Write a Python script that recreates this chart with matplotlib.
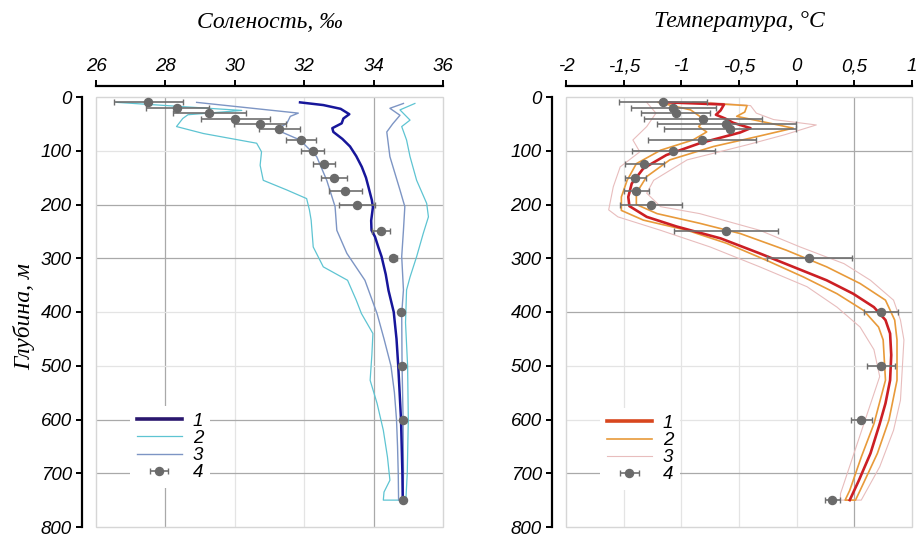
import matplotlib
matplotlib.use("Agg")
import matplotlib.pyplot as plt
from matplotlib.patches import Rectangle
from matplotlib.font_manager import FontProperties

# ---------------- data ----------------
depth_ticks = [0, 100, 200, 300, 400, 500, 600, 700, 800]

sal_ticks = [26, 28, 30, 32, 34, 36]
sal_tick_labels = ["26", "28", "30", "32", "34", "36"]
temp_ticks = [-2, -1.5, -1, -0.5, 0, 0.5, 1]
temp_tick_labels = ["-2", "-1,5", "-1", "-0,5", "0", "0,5", "1"]

series_labels = ["1", "2", "3", "4"]

# observation levels (series 4)
obs_depth = [10, 20, 30, 40, 50, 60, 80, 100, 125, 150, 175, 200, 250, 300, 400, 500, 600, 750]
sal_obs = [27.51, 28.34, 29.27, 30.02, 30.73, 31.28, 31.90, 32.25, 32.56, 32.86, 33.19, 33.52,
           34.21, 34.57, 34.78, 34.81, 34.84, 34.86]
sal_obs_err = [0.99, 0.91, 1.04, 1.00, 0.75, 0.59, 0.43, 0.33, 0.32, 0.38, 0.47, 0.52,
               0.26, 0.10, 0.03, 0.03, 0.03, 0.03]
temp_obs = [-1.16, -1.07, -1.05, -0.81, -0.61, -0.58, -0.82, -1.07, -1.32, -1.40, -1.39, -1.26,
            -0.61, 0.11, 0.73, 0.73, 0.56, 0.31]
temp_obs_err = [0.38, 0.37, 0.30, 0.51, 0.60, 0.57, 0.47, 0.36, 0.17, 0.09, 0.11, 0.27,
                0.45, 0.37, 0.15, 0.12, 0.09, 0.065]

# salinity: mean profile (series 1)
sal_mean_depth = [10, 15, 22, 32, 40, 49, 58, 65, 78, 92, 110, 130, 150, 167, 192, 205, 230, 248,
                  260, 280, 297, 330, 360, 400, 450, 500, 550, 600, 650, 700, 750]
sal_mean = [31.88, 32.55, 33.05, 33.30, 33.13, 33.08, 32.81, 32.84, 33.10, 33.32, 33.50, 33.66,
            33.78, 33.85, 33.95, 33.98, 33.93, 33.94, 34.04, 34.14, 34.23, 34.35, 34.43, 34.58,
            34.66, 34.71, 34.75, 34.79, 34.81, 34.83, 34.84]

# salinity: outer envelope (series 2)
sal_min2_depth = [10, 25, 33, 40, 55, 68, 86, 102, 127, 155, 173, 189, 210, 229, 279, 316, 341,
                  378, 403, 440, 480, 527, 570, 620, 670, 713, 735, 750]
sal_min2 = [26.60, 30.20, 28.65, 28.50, 28.32, 29.10, 30.63, 30.77, 30.73, 30.82, 31.50, 32.07,
            32.15, 32.20, 32.26, 32.55, 33.25, 33.50, 33.65, 33.98, 33.95, 33.90, 34.10, 34.28,
            34.40, 34.47, 34.30, 34.28]
sal_max2_depth = [12, 24, 43, 55, 80, 111, 155, 198, 223, 254, 297, 335, 359, 420, 500, 600, 700, 750]
sal_max2 = [35.19, 34.76, 35.05, 34.81, 34.95, 35.05, 35.24, 35.53, 35.58, 35.43, 35.24, 35.05,
            34.95, 34.92, 34.98, 35.00, 34.97, 34.93]

# salinity: inner envelope (series 3)
sal_min3_depth = [10, 30, 36, 49, 61, 80, 111, 155, 204, 248, 291, 341, 403, 450, 500, 550, 600,
                  650, 700, 750]
sal_min3 = [28.90, 31.83, 31.60, 31.50, 31.20, 31.88, 32.36, 32.65, 32.89, 32.94, 33.23, 33.75,
            34.10, 34.30, 34.50, 34.60, 34.66, 34.69, 34.71, 34.72]
sal_max3_depth = [12, 21, 34, 50, 65, 111, 173, 204, 248, 297, 359, 403, 500, 600, 700, 750]
sal_max3 = [34.86, 34.47, 34.76, 34.55, 34.38, 34.47, 34.76, 34.90, 34.86, 34.81, 34.86, 34.81,
            34.82, 34.85, 34.86, 34.85]

# temperature: mean profile (series 1)
temp_mean_depth = [10, 14, 25, 33, 40, 48, 58, 66, 86, 108, 133, 161, 186, 203, 223, 241, 263,
                   291, 316, 341, 366, 391, 415, 440, 480, 527, 570, 608, 663, 713, 750]
temp_mean = [-1.12, -0.63, -0.66, -0.70, -0.62, -0.55, -0.40, -0.49, -0.84, -1.13, -1.33, -1.43,
             -1.46, -1.45, -1.30, -1.04, -0.66, -0.32, -0.03, 0.26, 0.49, 0.67, 0.77, 0.81, 0.82,
             0.81, 0.77, 0.72, 0.64, 0.54, 0.46]

# temperature: inner envelope (series 2)
temp_min2_depth = [10, 24, 36, 46, 55, 65, 80, 99, 124, 155, 186, 211, 229, 248, 272, 304, 335,
                   366, 397, 428, 452, 527, 608, 670, 732, 750]
temp_min2 = [-1.20, -0.92, -0.84, -0.81, -0.85, -0.78, -0.90, -1.18, -1.39, -1.47, -1.52, -1.52,
             -1.33, -0.95, -0.61, -0.26, 0.06, 0.35, 0.58, 0.71, 0.75, 0.77, 0.67, 0.56, 0.46, 0.42]
temp_max2_depth = [10, 16, 28, 36, 48, 58, 74, 92, 117, 148, 179, 200, 217, 235, 254, 285, 316,
                   347, 378, 415, 452, 527, 601, 663, 732, 750]
temp_max2 = [-0.90, -0.43, -0.45, -0.52, -0.25, -0.03, -0.35, -0.72, -1.10, -1.30, -1.39, -1.39,
             -1.21, -0.84, -0.49, -0.09, 0.26, 0.55, 0.77, 0.85, 0.87, 0.87, 0.80, 0.70, 0.55, 0.51]

# temperature: outer envelope (series 3)
temp_min3_depth = [10, 30, 55, 80, 102, 130, 167, 210, 223, 248, 279, 316, 353, 391, 428, 470,
                   520, 738, 750]
temp_min3 = [-1.30, -1.22, -1.30, -1.42, -1.36, -1.53, -1.59, -1.63, -1.55, -1.18, -0.75, -0.32,
             0.09, 0.35, 0.55, 0.67, 0.72, 0.38, 0.38]
temp_max3_depth = [10, 16, 30, 42, 52, 70, 89, 117, 155, 179, 204, 217, 248, 279, 310, 341, 378,
                   415, 452, 564, 620, 688, 750]
temp_max3 = [-0.75, -0.40, -0.35, -0.20, 0.17, -0.10, -0.43, -0.95, -1.24, -1.30, -1.18, -0.84,
             -0.32, 0.03, 0.41, 0.64, 0.84, 0.90, 0.93, 0.90, 0.84, 0.72, 0.56]

# ---------------- style ----------------
TICK_FONT = FontProperties(family="Liberation Sans", style="italic", size=13.5)
TITLE_FONT = FontProperties(family="Liberation Serif", style="italic", size=17)
GRID_LIGHT = "#e4e4e4"
GRID_DARK = "#a9a9a9"
W, H = 919, 537


def envelope(lo_depth, lo, hi_depth, hi):
    """Lower bound down to the bottom, then upper bound back up."""
    xs = list(lo) + list(hi)[::-1]
    ys = list(lo_depth) + list(hi_depth)[::-1]
    return xs, ys


def style_axes(ax, xlim, xticks, xlabels, dark_x, dark_y):
    ax.set_xlim(*xlim)
    ax.set_ylim(800, 0)
    ax.xaxis.tick_top()
    ax.set_xticks(xticks)
    ax.set_xticklabels(xlabels)
    ax.set_yticks(depth_ticks)
    ax.set_yticklabels([str(d) for d in depth_ticks])
    for side in ("bottom", "right"):
        ax.spines[side].set_visible(False)
    ax.spines["top"].set_position(("outward", 8))
    ax.spines["left"].set_position(("outward", 10))
    for side in ("top", "left"):
        ax.spines[side].set_linewidth(1.6)
    ax.tick_params(direction="out", length=4.5, width=1.4, pad=3)
    for lab in ax.get_xticklabels() + ax.get_yticklabels():
        lab.set_fontproperties(TICK_FONT)
    for v in xticks[1:-1]:
        ax.axvline(v, color=GRID_DARK if v in dark_x else GRID_LIGHT, lw=0.9, zorder=0.4)
    for v in depth_ticks[1:-1]:
        ax.axhline(v, color=GRID_DARK if v in dark_y else GRID_LIGHT, lw=0.9, zorder=0.4)
    ax.add_patch(Rectangle((0, 0), 1, 1, transform=ax.transAxes, fill=False,
                           ec="#d6d6d6", lw=1.0, zorder=0.5, clip_on=False))


fig = plt.figure(figsize=(W / 100, H / 100), dpi=100)
ax_s = fig.add_axes([96 / W, 1 - 527 / H, 347 / W, 430 / H])
ax_t = fig.add_axes([566 / W, 1 - 527 / H, 346 / W, 430 / H])

# ---------------- salinity panel ----------------
style_axes(ax_s, (26, 36), sal_ticks, sal_tick_labels, [28, 34], [200, 300, 600, 700])
x2, y2 = envelope(sal_min2_depth, sal_min2, sal_max2_depth, sal_max2)
x3, y3 = envelope(sal_min3_depth, sal_min3, sal_max3_depth, sal_max3)
l2, = ax_s.plot(x2, y2, color="#5ec4d2", lw=0.9, zorder=2)
l3, = ax_s.plot(x3, y3, color="#7d95c4", lw=1.0, zorder=2)
l1, = ax_s.plot(sal_mean, sal_mean_depth, color="#17169a", lw=1.8, zorder=3)
e4 = ax_s.errorbar(sal_obs, obs_depth, xerr=sal_obs_err, fmt="o", color="#6a6a6a",
                   ecolor="#6e6e6e", elinewidth=1.2, capsize=2.5, capthick=1.0,
                   markersize=5.8, zorder=4)
leg = ax_s.legend([l1, l2, l3, e4], series_labels, loc="center",
                  bbox_to_anchor=(0.213, 0.186), frameon=True, facecolor="white",
                  edgecolor="none", framealpha=1, handlelength=2.4, handletextpad=0.6,
                  labelspacing=0.0, borderpad=0.35, prop=TICK_FONT)
leg.get_lines()[0].set_color("#2a176e")
leg.get_lines()[0].set_linewidth(2.6)
leg.set_zorder(6)

# ---------------- temperature panel ----------------
style_axes(ax_t, (-2, 1), temp_ticks, temp_tick_labels, [0.5], [100, 300, 400, 700])
tx3, ty3 = envelope(temp_min3_depth, temp_min3, temp_max3_depth, temp_max3)
tx2, ty2 = envelope(temp_min2_depth, temp_min2, temp_max2_depth, temp_max2)
t3, = ax_t.plot(tx3, ty3, color="#e8bdbd", lw=0.8, zorder=2)
t2, = ax_t.plot(tx2, ty2, color="#e89a3a", lw=1.2, zorder=2)
t1, = ax_t.plot(temp_mean, temp_mean_depth, color="#cc1f24", lw=1.9, zorder=3)
te4 = ax_t.errorbar(temp_obs, obs_depth, xerr=temp_obs_err, fmt="o", color="#6a6a6a",
                    ecolor="#6e6e6e", elinewidth=1.2, capsize=2.5, capthick=1.0,
                    markersize=5.8, zorder=4)
leg_t = ax_t.legend([t1, t2, t3, te4], series_labels, loc="center",
                    bbox_to_anchor=(0.214, 0.181), frameon=True, facecolor="white",
                    edgecolor="none", framealpha=1, handlelength=2.4, handletextpad=0.6,
                    labelspacing=0.0, borderpad=0.35, prop=TICK_FONT)
leg_t.get_lines()[0].set_color("#d8461e")
leg_t.get_lines()[0].set_linewidth(2.6)
leg_t.set_zorder(6)

# ---------------- titles ----------------
fig.text((96 + 347 / 2) / W, 1 - 22 / H, "Соленость, ‰", fontproperties=TITLE_FONT,
         ha="center", va="center")
fig.text((566 + 346 / 2) / W, 1 - 22 / H, "Температура, °C", fontproperties=TITLE_FONT,
         ha="center", va="center")
fig.text(24 / W, 1 - 317 / H, "Глубина, м", fontproperties=TITLE_FONT,
         rotation=90, ha="center", va="center")

fig.savefig("out.png", dpi=100, facecolor="white")
